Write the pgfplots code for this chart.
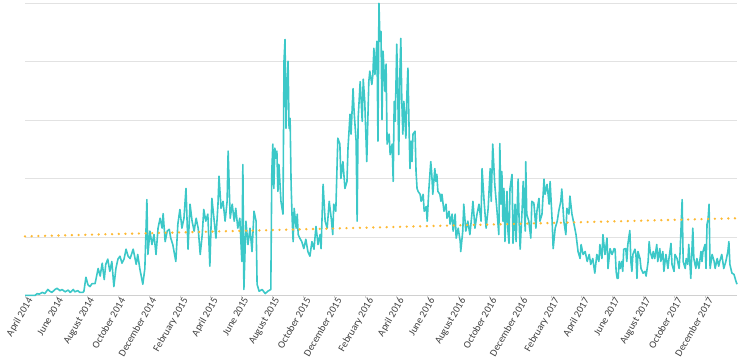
\documentclass[border=0pt]{standalone}
\usepackage{pgfplots}
\usepackage{pgfplotstable}
\pgfplotsset{compat=1.18}
\usepackage{fontspec}
\setmainfont{Carlito}
\definecolor{linec}{HTML}{3CC8C8}
\definecolor{trendc}{HTML}{FDB933}
\definecolor{gridc}{HTML}{E2E2E2}
\definecolor{axisc}{HTML}{D0D0D0}
\definecolor{labc}{HTML}{404040}

\pgfplotstableread{
d v
0 0
10 0
20 0
24 0.03
28 0.02
34 0.05
39 0.03
45 0.10
49 0.07
53 0.05
59 0.10
63 0.12
69 0.08
73 0.10
79 0.06
85 0.09
89 0.05
95 0.10
98 0.06
104 0.08
108 0.05
114 0.05
116 0.07
120 0.31
124 0.18
128 0.15
132 0.20
138 0.20
144 0.46
148 0.33
152 0.55
156 0.27
159 0.53
163 0.62
167 0.41
171 0.58
175 0.15
179 0.46
183 0.62
187 0.67
191 0.55
195 0.62
199 0.79
203 0.67
207 0.63
213 0.79
219 0.53
222 0.70
226 0.46
232 0.19
236 0.46
238 1.04
240 1.64
242 0.70
246 1.10
250 0.87
254 1.04
258 0.70
262 1.15
266 1.32
270 1.15
272 1.40
276 0.92
280 1.10
284 1.13
287 0.98
291 0.87
297 0.58
301 1.22
305 1.47
309 1.15
313 1.32
317 1.83
321 0.79
325 1.56
329 1.27
333 1.10
337 1.32
341 1.15
345 0.70
349 1.04
352 1.47
356 1.27
360 1.39
364 0.50
368 1.66
372 1.32
376 0.98
380 1.56
382 2.04
386 1.49
390 1.61
394 1.27
398 1.61
400 2.47
404 1.32
408 1.56
412 1.27
415 1.49
419 1.15
423 1.32
427 0.58
429 2.24
431 0.10
435 1.27
439 0.87
443 1.15
447 0.75
451 1.44
455 1.27
457 0.19
461 0.07
467 0.10
473 0.03
478 0.07
484 0.10
486 2.12
488 2.59
490 1.83
492 2.52
494 2.35
496 2.47
498 1.78
500 2.24
504 1.61
508 1.39
510 4.01
512 4.38
514 2.86
516 3.61
518 4.01
520 2.86
522 3.03
524 1.90
526 1.32
528 0.92
530 1.49
534 1.15
536 1.39
538 1.04
541 0.98
545 0.92
549 0.80
553 0.96
557 0.75
561 0.67
565 0.92
569 0.79
573 1.18
577 0.87
581 1.04
583 0.80
587 1.90
591 1.27
595 1.15
599 1.61
603 1.32
606 1.04
608 1.56
612 1.44
616 2.69
620 2.59
622 2.00
626 2.29
630 1.83
634 1.95
636 2.52
640 3.10
642 2.76
646 3.54
648 3.15
652 2.64
654 1.27
656 3.03
660 3.66
664 2.98
666 3.70
669 3.32
673 2.29
677 3.66
679 3.84
683 3.61
685 3.78
687 4.23
689 3.78
693 4.35
695 2.64
697 5.00
699 4.35
701 4.52
703 3.01
705 4.18
709 3.49
711 3.96
713 2.59
717 2.76
719 2.41
723 2.59
725 1.95
727 3.32
729 2.98
731 3.84
732 4.30
734 3.49
736 2.41
738 3.72
740 4.40
742 3.32
744 2.76
746 3.32
748 3.03
750 2.69
752 3.44
754 3.89
756 2.98
758 2.17
760 2.64
762 2.29
764 2.76
768 2.81
770 2.12
772 1.83
774 1.78
778 1.73
780 1.61
784 1.73
786 1.44
790 1.52
792 1.27
794 1.61
795 1.78
799 2.29
801 2.07
803 1.73
807 2.17
809 1.95
811 2.07
813 1.78
817 1.73
819 1.61
821 1.73
825 1.44
829 1.56
831 1.32
835 1.44
837 1.22
841 1.39
843 1.10
847 1.39
849 0.98
853 1.15
857 0.92
858 0.75
862 1.10
864 1.56
868 1.10
872 1.27
876 1.04
880 1.39
882 1.61
886 1.15
890 1.39
894 1.56
898 1.27
900 2.17
904 1.61
908 1.15
912 1.49
916 2.17
918 1.61
921 2.59
925 1.90
929 1.49
933 1.04
935 2.60
937 1.56
939 2.12
941 1.27
943 1.83
945 0.92
949 1.78
951 1.10
953 0.89
955 1.83
959 2.07
961 0.89
965 1.56
967 0.92
971 1.99
973 1.27
975 0.79
979 1.49
981 1.95
985 1.10
986 2.29
988 1.39
992 1.27
996 0.98
998 1.61
1002 1.58
1006 1.15
1008 1.44
1012 1.66
1014 1.27
1018 1.39
1022 1.99
1024 1.73
1028 1.90
1032 1.56
1034 1.95
1038 1.27
1040 0.80
1044 1.15
1048 1.27
1051 1.44
1055 1.61
1057 1.82
1061 1.27
1065 1.04
1067 1.49
1071 1.39
1073 1.70
1077 1.39
1081 1.22
1085 1.04
1089 0.75
1093 0.63
1095 0.87
1099 0.70
1103 0.75
1107 0.58
1111 0.70
1114 0.53
1118 0.63
1122 0.38
1126 0.70
1130 0.58
1132 0.87
1136 0.63
1138 1.04
1142 0.70
1146 0.98
1148 0.46
1152 0.80
1156 0.70
1160 0.80
1162 0.79
1164 0.41
1166 0.29
1168 0.29
1170 0.58
1172 0.46
1175 0.58
1177 0.41
1179 0.79
1183 0.80
1185 0.58
1187 0.87
1191 1.11
1193 0.58
1195 0.41
1197 0.70
1201 0.79
1203 0.70
1205 0.29
1207 0.75
1211 0.63
1213 0.46
1217 0.38
1221 0.41
1223 0.33
1227 0.58
1229 0.92
1231 0.75
1235 0.63
1237 0.75
1240 0.63
1244 0.87
1246 0.58
1250 0.80
1252 0.58
1256 0.75
1258 0.41
1262 0.70
1266 0.46
1268 0.63
1272 0.89
1274 0.53
1278 0.41
1280 0.70
1284 0.63
1288 0.46
1290 0.75
1294 1.64
1296 0.58
1300 0.46
1302 0.63
1305 0.53
1307 0.87
1311 0.29
1315 1.15
1317 0.63
1321 0.46
1323 0.63
1327 0.46
1331 0.75
1333 0.58
1335 0.75
1339 0.87
1341 0.46
1343 1.22
1345 1.30
1347 1.56
1349 0.46
1353 0.70
1357 0.58
1359 0.46
1363 0.63
1366 0.50
1368 0.58
1372 0.70
1376 0.46
1380 0.58
1384 0.75
1386 0.92
1388 0.53
1392 0.38
1396 0.36
1400 0.24
1402 0.19
}\datatable

\begin{document}
\begin{tikzpicture}
\begin{axis}[
  width=712pt, height=292pt, scale only axis,
  xmin=0, xmax=1402, ymin=0, ymax=5,
  clip=false,
  axis x line*=bottom,
  axis y line*=left,
  x axis line style={draw=axisc, line width=1pt, -},
  y axis line style={draw=none},
  ytick={0,1,2,3,4,5},
  yticklabels={},
  ytick style={draw=none},
  ymajorgrids,
  grid style={draw=gridc, line width=0.8pt},
  xtick={0,61,122,183,244,306,365,426,487,548,609,671,731,792,853,914,975,1037,1096,1157,1218,1279,1340},
  xticklabels={April 2014,June 2014,August 2014,October 2014,December 2014,February 2015,April 2015,June 2015,August 2015,October 2015,December 2015,February 2016,April 2016,June 2016,August 2016,October 2016,December 2016,February 2017,April 2017,June 2017,August 2017,October 2017,December 2017},
  x tick label style={rotate=60, anchor=north east, font=\fontsize{10.2}{11}\selectfont, text=labc, inner sep=0.5pt, xshift=3pt},
  xtick style={draw=axisc, line width=0.8pt},
  tick align=outside,
  major tick length=3pt,
]
\addplot[linec, line width=1.6pt, line join=round] table[x=d, y=v] {\datatable};
\addplot[trendc, line width=2.6pt, line cap=round, dash pattern=on 0pt off 6.7pt] coordinates {(0,1.01) (1402,1.32)};
\end{axis}
\path (current axis.south west) +(-25pt,0pt);
\path (current axis.north west) +(0pt,2pt);
\path (current axis.north east) +(2pt,0pt);
\end{tikzpicture}
\end{document}
